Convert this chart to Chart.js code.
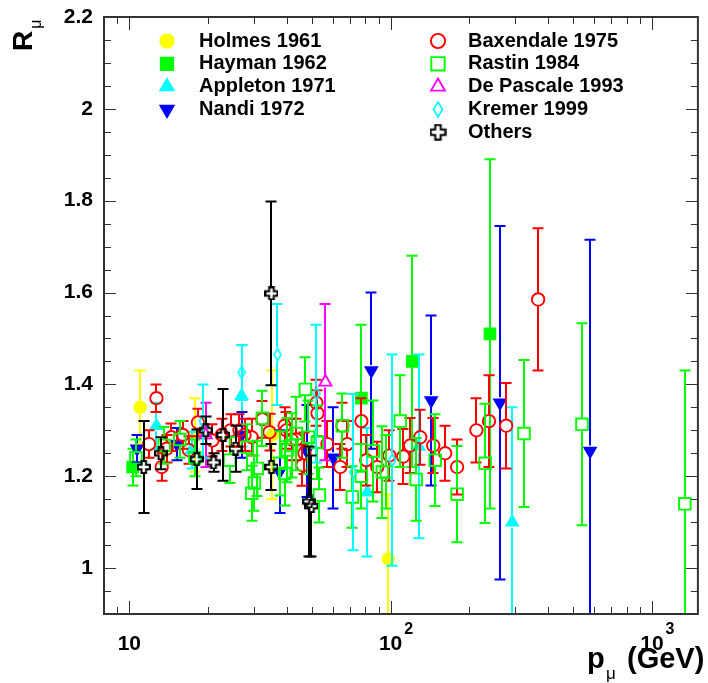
<!DOCTYPE html>
<html>
<head>
<meta charset="utf-8">
<script src="https://cdn.jsdelivr.net/npm/chart.js@4.4.1/dist/chart.umd.min.js"></script>
<style>
  html, body { margin: 0; padding: 0; background: #fff; }
  #wrap { width: 708px; height: 683px; position: relative; }
</style>
</head>
<body>
<div id="wrap"><canvas id="chart" width="708" height="683"></canvas></div>
<script>
// series names, in legend order
const seriesNames = ['Holmes 1961', 'Hayman 1962', 'Appleton 1971', 'Nandi 1972',
  'Baxendale 1975', 'Rastin 1984', 'De Pascale 1993', 'Kremer 1999', 'Others'];

// p (GeV), R and error for each experiment
const holmesP = [11.0, 17.9, 35.3, 98];
const holmesR = [1.35, 1.29, 1.29, 1.02];
const holmesErr = [0.08, 0.08, 0.14, 0.14];

const haymanP = [10.3, 77.3, 121, 240];
const haymanR = [1.22, 1.37, 1.45, 1.51];
const haymanErr = [0.04, 0.16, 0.23, 0.38];

const appletonP = [12.7, 17.3, 26.9, 81.5, 128, 292];
const appletonR = [1.31, 1.257, 1.375, 1.165, 1.265, 1.10];
const appletonErr = [0.05, 0.04, 0.11, 0.14, 0.2, 0.25];

const nandiP = [10.7, 15.2, 26.9, 37.6, 47.7, 60.4, 84.4, 143, 262, 580];
const nandiR = [1.26, 1.27, 1.29, 1.21, 1.255, 1.24, 1.43, 1.365, 1.36, 1.255];
const nandiErr = [0.03, 0.035, 0.05, 0.09, 0.1, 0.11, 0.17, 0.185, 0.385, 0.46];

const baxP = [11.9, 12.7, 13.3, 13.9, 14.5, 16.0, 16.9, 18.3, 20.8, 22.6, 24.4, 26.4, 27.6, 29.4,
  32.3, 34.4, 39.3, 39.9, 41.8, 43.6, 46.0, 46.8, 52.0, 52.5, 57.3, 64.2, 65.4, 68.3, 77.3, 80.7,
  88.9, 98.9, 111.8, 118.9, 129.9, 145.6, 161.8, 179.7, 213, 238, 277, 367];
const baxR = [1.27, 1.37, 1.22, 1.26, 1.285, 1.29, 1.257, 1.317, 1.278, 1.29, 1.30, 1.30, 1.29, 1.285,
  1.324, 1.296, 1.31, 1.30, 1.28, 1.28, 1.224, 1.25, 1.36, 1.337, 1.27, 1.22, 1.31, 1.27, 1.32, 1.235,
  1.22, 1.245, 1.243, 1.267, 1.285, 1.267, 1.25, 1.22, 1.30, 1.32, 1.31, 1.585];
const baxErr = [0.03, 0.03, 0.03, 0.03, 0.03, 0.03, 0.03, 0.03, 0.035, 0.035, 0.035, 0.035, 0.035, 0.04,
  0.04, 0.04, 0.04, 0.04, 0.045, 0.045, 0.045, 0.045, 0.05, 0.05, 0.05, 0.05, 0.05, 0.05, 0.05, 0.055,
  0.055, 0.055, 0.06, 0.06, 0.06, 0.06, 0.06, 0.06, 0.07, 0.1, 0.093, 0.155];

const rastinP = [10.6, 13.6, 15.6, 17.8, 24.2, 28.3, 29.4, 30.1, 30.9, 32.3, 37.6, 39.3, 40.3, 41.8,
  43.6, 47.2, 48.5, 52.5, 53.4, 65.4, 71.4, 77.3, 85.9, 93, 96.3, 108.9, 125.3, 148.2, 179.7, 230,
  324, 540, 1337];
const rastinR = [1.24, 1.267, 1.28, 1.24, 1.235, 1.263, 1.163, 1.185, 1.217, 1.326, 1.228, 1.206, 1.257, 1.267,
  1.293, 1.389, 1.285, 1.274, 1.159, 1.31, 1.155, 1.20, 1.255, 1.209, 1.21, 1.32, 1.193, 1.235, 1.161, 1.228,
  1.293, 1.313, 1.14];
const rastinErr = [0.04, 0.04, 0.04, 0.04, 0.05, 0.05, 0.06, 0.06, 0.06, 0.06, 0.07, 0.07, 0.07, 0.07,
  0.08, 0.07, 0.08, 0.08, 0.06, 0.07, 0.067, 0.07, 0.11, 0.1, 0.08, 0.1, 0.09, 0.1, 0.105, 0.13,
  0.16, 0.22, 0.29];

const pascaleP = [19.6, 56.3];
const pascaleR = [1.29, 1.405];
const pascaleErr = [0.07, 0.17];

const kremerP = [19.1, 26.9, 36.9, 52, 72, 101.5];
const kremerR = [1.32, 1.426, 1.465, 1.38, 1.209, 1.235];
const kremerErr = [0.08, 0.06, 0.11, 0.15, 0.17, 0.23];

const othersP = [11.35, 13.2, 18.1, 19.6, 21.0, 22.9, 25.5, 35, 35, 48.9, 49.8];
const othersR = [1.22, 1.25, 1.237, 1.30, 1.23, 1.29, 1.26, 1.22, 1.598, 1.145, 1.135];
const othersErr = [0.1, 0.035, 0.065, 0.03, 0.02, 0.1, 0.05, 0.05, 0.2, 0.12, 0.11];

// axis ticks
const yTickValues = [1, 1.2, 1.4, 1.6, 1.8, 2, 2.2];
const yTickLabels = ['1', '1.2', '1.4', '1.6', '1.8', '2', '2.2'];
const xTickValues = [10, 100, 1000];
const xTickExp = ['', '2', '3'];

const FONT = '"Liberation Sans", Arial, Helvetica, sans-serif';

function openCross(s) {
  const n = Math.round(14 * s);
  const c = document.createElement('canvas');
  c.width = n; c.height = n;
  const g = c.getContext('2d');
  const a = 2.3 * s, b = 6 * s;
  g.translate(n / 2, n / 2);
  g.beginPath();
  g.moveTo(-a, -b); g.lineTo(a, -b); g.lineTo(a, -a); g.lineTo(b, -a); g.lineTo(b, a); g.lineTo(a, a);
  g.lineTo(a, b); g.lineTo(-a, b); g.lineTo(-a, a); g.lineTo(-b, a); g.lineTo(-b, -a); g.lineTo(-a, -a);
  g.closePath();
  g.lineWidth = 2;
  g.strokeStyle = '#000';
  g.stroke();
  return c;
}

function openDiamond(s) {
  const w = Math.round(10 * s), h = Math.round(14 * s);
  const c = document.createElement('canvas');
  c.width = w; c.height = h;
  const g = c.getContext('2d');
  g.beginPath();
  g.moveTo(w / 2, 1); g.lineTo(w - 1.5, h / 2); g.lineTo(w / 2, h - 1); g.lineTo(1.5, h / 2);
  g.closePath();
  g.lineWidth = 1.7;
  g.strokeStyle = '#00ffff';
  g.stroke();
  return c;
}

const seriesColors = ['#ffff00', '#00ff00', '#00ffff', '#0000ff', '#ff0000', '#00ff00', '#ff00ff', '#00ffff', '#000000'];
const seriesFilled = [true, true, true, true, false, false, false, false, false];
const seriesStyles = ['circle', 'rect', 'triangle', 'triangle', 'circle', 'rect', 'triangle', openDiamond(1), openCross(1)];
const legendStyles = ['circle', 'rect', 'triangle', 'triangle', 'circle', 'rect', 'triangle', openDiamond(1.2), openCross(1.2)];
const seriesRotation = [0, 0, 0, 180, 0, 0, 0, 0, 0];
const seriesRadius = [5.8, 7.6, 6.6, 6.6, 6.2, 8.2, 7, 6, 6];
const seriesGap = [5.8, 5.4, 5.5, 5.5, 6.2, 5.8, 5.5, 7, 6];

const allP = [holmesP, haymanP, appletonP, nandiP, baxP, rastinP, pascaleP, kremerP, othersP];
const allR = [holmesR, haymanR, appletonR, nandiR, baxR, rastinR, pascaleR, kremerR, othersR];
const allErr = [holmesErr, haymanErr, appletonErr, nandiErr, baxErr, rastinErr, pascaleErr, kremerErr, othersErr];

const datasets = seriesNames.map((name, i) => ({
  label: name,
  data: allP[i].map((p, k) => ({ x: p, y: allR[i][k] })),
  errors: allErr[i],
  gap: seriesGap[i],
  borderColor: seriesColors[i],
  backgroundColor: seriesFilled[i] ? seriesColors[i] : 'rgba(0,0,0,0)',
  pointStyle: seriesStyles[i],
  rotation: seriesRotation[i],
  pointRadius: seriesRadius[i],
  pointHoverRadius: seriesRadius[i],
  pointBorderWidth: 1.9,
  showLine: false,
  order: seriesNames.length - i
}));

// vertical error bars with caps, drawn just before each series' markers
const errorBars = {
  id: 'errorBars',
  beforeDatasetDraw(chart, args) {
    const ds = chart.data.datasets[args.index];
    const yScale = chart.scales.y;
    const area = chart.chartArea;
    const ctx = chart.ctx;
    ctx.save();
    ctx.beginPath();
    ctx.rect(area.left, area.top, area.right - area.left, area.bottom - area.top);
    ctx.clip();
    ctx.strokeStyle = ds.borderColor;
    ctx.lineWidth = 2;
    args.meta.data.forEach((pt, k) => {
      const v = ds.data[k].y, e = ds.errors[k];
      const top = yScale.getPixelForValue(v + e);
      const bot = yScale.getPixelForValue(v - e);
      const x = Math.round(pt.x);
      ctx.beginPath();
      if (top < pt.y - ds.gap) { ctx.moveTo(x, top); ctx.lineTo(x, pt.y - ds.gap); }
      if (bot > pt.y + ds.gap) { ctx.moveTo(x, pt.y + ds.gap); ctx.lineTo(x, bot); }
      ctx.moveTo(x - 5.5, top); ctx.lineTo(x + 5.5, top);
      ctx.moveTo(x - 5.5, bot); ctx.lineTo(x + 5.5, bot);
      ctx.stroke();
    });
    ctx.restore();
  }
};

// ROOT-like frame, inward ticks, labels, titles and two-column legend
const frame = {
  id: 'frame',
  afterDraw(chart) {
    const ctx = chart.ctx;
    const a = chart.chartArea;
    const xs = chart.scales.x, ys = chart.scales.y;
    ctx.save();
    ctx.strokeStyle = '#333';
    ctx.lineWidth = 1;

    // y ticks every 0.05, long at the labelled values
    ctx.beginPath();
    for (let i = 0; i <= 26; i++) {
      const v = 0.9 + i * 0.05;
      const py = Math.round(ys.getPixelForValue(v)) + 0.5;
      const len = Math.round(v * 100) % 20 === 0 ? 12 : 7;
      ctx.moveTo(a.left, py); ctx.lineTo(a.left + len, py);
      ctx.moveTo(a.right, py); ctx.lineTo(a.right - len, py);
    }
    // x ticks, log decades
    [1, 10, 100, 1000].forEach(d => {
      for (let m = 1; m <= 9; m++) {
        const v = m * d;
        if (v < xs.min || v > xs.max) continue;
        const px = Math.round(xs.getPixelForValue(v)) + 0.5;
        const len = m === 1 ? 13 : 7;
        ctx.moveTo(px, a.bottom); ctx.lineTo(px, a.bottom - len);
        ctx.moveTo(px, a.top); ctx.lineTo(px, a.top + len);
      }
    });
    ctx.stroke();

    ctx.lineWidth = 2;
    ctx.strokeRect(a.left, a.top, a.right - a.left, a.bottom - a.top);

    ctx.fillStyle = '#000';
    ctx.font = 'bold 21px ' + FONT;
    ctx.textAlign = 'right';
    ctx.textBaseline = 'middle';
    yTickValues.forEach((v, i) => {
      ctx.fillText(yTickLabels[i], 93, ys.getPixelForValue(v));
    });

    ctx.textBaseline = 'alphabetic';
    xTickValues.forEach((v, i) => {
      const px = xs.getPixelForValue(v);
      ctx.font = 'bold 21px ' + FONT;
      ctx.textAlign = 'center';
      ctx.fillText('10', px, 650);
      if (xTickExp[i]) {
        const w = ctx.measureText('10').width;
        ctx.font = 'bold 16px ' + FONT;
        ctx.textAlign = 'left';
        ctx.fillText(xTickExp[i], px + w / 2 + 2, 634);
      }
    });

    // x title
    ctx.textAlign = 'left';
    ctx.font = 'bold 29px ' + FONT;
    ctx.fillText('p', 587, 668);
    ctx.font = '17px ' + FONT;
    ctx.fillText('\u03bc', 606, 679);
    ctx.font = 'bold 29px ' + FONT;
    ctx.fillText('(GeV)', 627, 668);

    // y title, rotated
    ctx.save();
    ctx.translate(32, 51);
    ctx.rotate(-Math.PI / 2);
    ctx.font = 'bold 28px ' + FONT;
    ctx.fillText('R', 0, 0);
    const rw = ctx.measureText('R').width;
    ctx.font = '16px ' + FONT;
    ctx.fillText('\u03bc', rw + 2, 9);
    ctx.restore();

    // legend
    const colMarker = [167, 438], colText = [199, 468];
    const rowsPerCol = 4;
    ctx.font = 'bold 20px ' + FONT;
    ctx.textBaseline = 'middle';
    seriesNames.forEach((name, i) => {
      const col = i < rowsPerCol ? 0 : 1;
      const row = i < rowsPerCol ? i : i - rowsPerCol;
      const y = 41 + row * 22.8;
      ctx.fillStyle = seriesFilled[i] ? seriesColors[i] : 'rgba(0,0,0,0)';
      ctx.strokeStyle = seriesColors[i];
      ctx.lineWidth = 1.9;
      Chart.helpers.drawPoint(ctx, {
        pointStyle: legendStyles[i],
        rotation: seriesRotation[i],
        radius: seriesRadius[i] * 1.15,
        borderWidth: 1.9
      }, colMarker[col], y);
      ctx.fillStyle = '#000';
      ctx.textAlign = 'left';
      ctx.fillText(name, colText[col], y);
    });
    ctx.restore();
  }
};

new Chart(document.getElementById('chart'), {
  type: 'scatter',
  data: { datasets: datasets },
  options: {
    responsive: false,
    animation: false,
    devicePixelRatio: 1,
    layout: { padding: { left: 104, right: 8, top: 17, bottom: 69 } },
    scales: {
      x: { type: 'logarithmic', min: 8, max: 1500, display: false },
      y: { type: 'linear', min: 0.9, max: 2.2, display: false }
    },
    plugins: {
      legend: { display: false },
      tooltip: { enabled: false }
    }
  },
  plugins: [errorBars, frame]
});
</script>
</body>
</html>
